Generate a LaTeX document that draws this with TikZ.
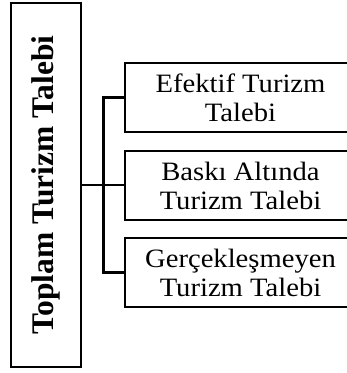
\documentclass[tikz,border=0pt]{standalone}
\usepackage{fontspec}
\setmainfont{Liberation Serif}
\usepackage{graphicx}
\newcommand{\hx}[1]{\scalebox{1.08}[1]{#1}}
\begin{document}
\begin{tikzpicture}[x=1pt,y=-1pt,
  boxline/.style={draw=black,line width=2.2pt},
  mainbox/.style={boxline,inner sep=0pt,minimum width=70pt,minimum height=364pt,
    font=\fontsize{31.5}{34}\selectfont\bfseries},
  subbox/.style={boxline,inner sep=0pt,minimum width=231pt,minimum height=69pt,align=center,
    font=\fontsize{26.5}{29}\selectfont},
  link/.style={draw=black,line width=2.2pt}]
\clip (0,0) rectangle (347,373);
\fill[white] (0,0) rectangle (347,373);
\node[mainbox] (L) at (46,185) {\rotatebox{90}{Toplam Turizm Talebi}};
\node[subbox] (B1) at (240.5,97.5) {\hx{Efektif Turizm}\\\hx{Talebi}};
\node[subbox] (B2) at (240.5,185.5) {\hx{Baskı Altında}\\\hx{Turizm Talebi}};
\node[subbox] (B3) at (240.5,272.5) {\hx{Gerçekleşmeyen}\\\hx{Turizm Talebi}};
\coordinate (J) at (103.5,185);
\draw[link] (L.east) -- (L.east -| B2.west);
\draw[link] (B1.west) -- (J |- B1.west) -- (J |- B3.west) -- (B3.west);
\end{tikzpicture}
\end{document}
